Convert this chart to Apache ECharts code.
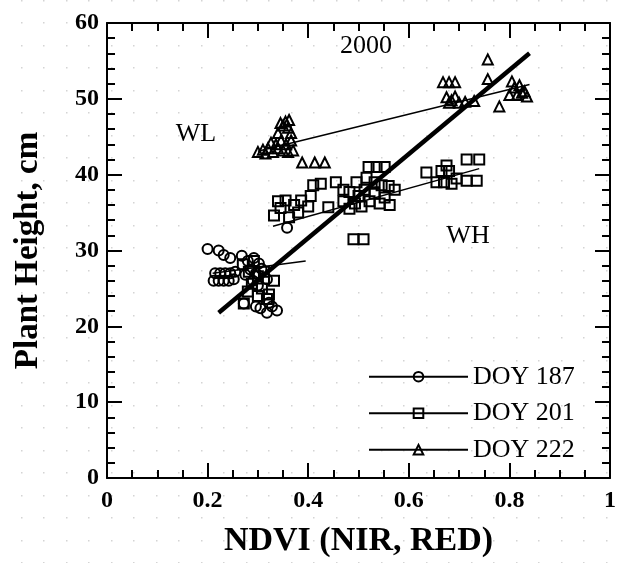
<!DOCTYPE html>
<html>
<head>
<meta charset="utf-8">
<script src="https://cdn.jsdelivr.net/npm/echarts@6/dist/echarts.min.js"></script>
<style>
html, body { margin: 0; padding: 0; background: #fff; }
#height-chart { width: 625px; height: 563px; }
</style>
</head>
<body>
<div id="height-chart"></div>
<script>
// plant height vs NDVI, 2000 season
const xTicks = [0, 0.2, 0.4, 0.6, 0.8, 1];
const yTicks = [0, 10, 20, 30, 40, 50, 60];

// DOY 187 (circles)
const doy187 = [
  [0.200, 30.2], [0.222, 30.0], [0.232, 29.4], [0.245, 29.0],
  [0.215, 27.0], [0.225, 27.0], [0.235, 27.0], [0.245, 27.0], [0.255, 27.2],
  [0.212, 26.0], [0.222, 26.0], [0.232, 26.0], [0.242, 26.0], [0.252, 26.2],
  [0.268, 29.3], [0.280, 28.6], [0.292, 29.0], [0.302, 28.3], [0.285, 27.5],
  [0.296, 27.0], [0.307, 27.6], [0.275, 26.8], [0.290, 26.0], [0.300, 25.4],
  [0.305, 22.4], [0.318, 21.8], [0.328, 22.6], [0.338, 22.1], [0.322, 23.1],
  [0.296, 22.6], [0.272, 23.0], [0.318, 26.2], [0.358, 33.0]
];

// DOY 201 (squares)
const doy201 = [
  [0.270, 28.2], [0.282, 27.2], [0.292, 28.6], [0.300, 26.6], [0.312, 27.2],
  [0.288, 25.6], [0.308, 25.0], [0.322, 24.2], [0.300, 24.0], [0.332, 26.0],
  [0.280, 24.6], [0.272, 23.0], [0.318, 23.6],
  [0.332, 34.6], [0.345, 35.6], [0.362, 34.4], [0.340, 36.5], [0.355, 36.6],
  [0.372, 36.0], [0.386, 36.6], [0.380, 35.0], [0.400, 35.8], [0.410, 38.6],
  [0.425, 38.8], [0.405, 37.2], [0.440, 35.7], [0.455, 39.0], [0.470, 38.0],
  [0.482, 37.7], [0.470, 36.5], [0.482, 35.5], [0.493, 36.2], [0.500, 37.2],
  [0.506, 35.8], [0.512, 38.0], [0.522, 36.5], [0.532, 37.5], [0.542, 36.2],
  [0.552, 37.0], [0.562, 36.0], [0.560, 38.5], [0.572, 38.0], [0.496, 39.0],
  [0.516, 39.6], [0.532, 39.0], [0.546, 38.6], [0.520, 41.0], [0.536, 41.0],
  [0.552, 41.0], [0.490, 31.5], [0.510, 31.5],
  [0.635, 40.3], [0.655, 39.0], [0.665, 40.5], [0.670, 39.0], [0.680, 40.5],
  [0.685, 38.8], [0.695, 39.5], [0.715, 39.2], [0.735, 39.2], [0.715, 42.0],
  [0.740, 42.0], [0.675, 41.2]
];

// DOY 222 (triangles)
const doy222 = [
  [0.300, 43.0], [0.310, 43.3], [0.315, 42.8], [0.320, 43.5], [0.326, 44.2],
  [0.330, 43.0], [0.336, 44.0], [0.340, 43.5], [0.346, 44.5], [0.350, 43.2],
  [0.356, 44.0], [0.360, 43.0], [0.366, 44.5], [0.370, 43.2], [0.340, 45.5],
  [0.350, 46.5], [0.355, 47.0], [0.360, 46.2], [0.366, 45.5], [0.345, 46.8],
  [0.362, 47.2], [0.388, 41.6], [0.413, 41.6], [0.433, 41.6],
  [0.668, 52.2], [0.680, 52.2], [0.692, 52.2], [0.675, 50.2], [0.685, 49.8],
  [0.692, 50.3], [0.680, 49.5], [0.700, 49.5], [0.712, 49.6], [0.730, 49.7],
  [0.757, 55.2], [0.757, 52.6], [0.780, 49.0], [0.805, 52.3], [0.810, 51.5],
  [0.815, 50.5], [0.825, 50.8], [0.835, 50.3], [0.820, 51.8], [0.830, 51.0],
  [0.800, 50.5]
];

// fitted lines (end points)
const fit187 = [[0.21, 27.0], [0.395, 28.6]];
const fit201 = [[0.33, 33.2], [0.74, 40.8]];
const fit222 = [[0.30, 43.1], [0.84, 51.9]];
const fitAll = [[0.222, 21.8], [0.84, 56.0]];

const SERIF = 'Liberation Serif';

// faint dotted paper background
function dotCanvas () {
  let c = document.createElement('canvas');
  c.width = 45;
  c.height = 45;
  let ctx = c.getContext('2d');
  ctx.fillStyle = '#d4d4d4';
  [[21, 0], [43, 0], [21, 22], [43, 22]].forEach(p => ctx.fillRect(p[0], p[1], 1.5, 1.5));
  return c;
}

function valueAxis (pos, min, max, step, minorSplit, labels) {
  let ax = {
    type: 'value',
    position: pos,
    min: min,
    max: max,
    interval: step,
    axisLine: { show: true, onZero: false, lineStyle: { color: '#000', width: 2 } },
    axisTick: { show: true, inside: true, length: 15, lineStyle: { color: '#000', width: 2 } },
    minorTick: { show: true, splitNumber: minorSplit, length: 8, lineStyle: { color: '#000', width: 2 } },
    splitLine: { show: false },
    axisLabel: { show: false }
  };
  if (labels) {
    ax.axisLabel = {
      show: true,
      color: '#000',
      fontFamily: SERIF,
      fontWeight: 'bold',
      fontSize: 24
    };
  }
  return ax;
}

let xBottom = valueAxis('bottom', xTicks[0], xTicks[xTicks.length - 1], 0.2, 4, true);
xBottom.axisLabel.margin = 11;
xBottom.name = 'NDVI (NIR, RED)';
xBottom.nameLocation = 'middle';
xBottom.nameGap = 46;
xBottom.nameTextStyle = { color: '#000', fontFamily: SERIF, fontWeight: 'bold', fontSize: 34 };

let yLeft = valueAxis('left', yTicks[0], yTicks[yTicks.length - 1], 10, 5, true);
yLeft.axisLabel.margin = 8;
yLeft.name = 'Plant Height, cm';
yLeft.nameLocation = 'middle';
yLeft.nameGap = 62;
yLeft.nameTextStyle = { color: '#000', fontFamily: SERIF, fontWeight: 'bold', fontSize: 33 };

let xTop = valueAxis('top', xTicks[0], xTicks[xTicks.length - 1], 0.2, 4, false);
let yRight = valueAxis('right', yTicks[0], yTicks[yTicks.length - 1], 10, 5, false);

function pointSeries (name, shape, data) {
  return {
    name: name,
    type: 'scatter',
    symbol: shape,
    symbolSize: 10,
    data: data,
    itemStyle: { color: 'rgba(0,0,0,0)', borderColor: '#000', borderWidth: 2, opacity: 1 },
    z: 3
  };
}

function fitSeries (name, shape, data, width) {
  return {
    name: name,
    type: 'line',
    symbol: shape,
    showSymbol: false,
    data: data,
    lineStyle: { color: '#000', width: width },
    itemStyle: { color: 'rgba(0,0,0,0)', borderColor: '#000', borderWidth: 1.5 },
    z: 4
  };
}

let chart = echarts.init(document.getElementById('height-chart'));
window.addEventListener('resize', () => { chart.resize(); });

chart.setOption({
  animation: false,
  backgroundColor: '#fff',
  grid: { left: 107, right: 15, top: 23, bottom: 83, containLabel: false },
  xAxis: [xBottom, xTop],
  yAxis: [yLeft, yRight],
  legend: {
    data: ['DOY 187', 'DOY 201', 'DOY 222'],
    orient: 'vertical',
    left: 363,
    top: 358.7,
    itemWidth: 99,
    itemHeight: 12,
    itemGap: 10.5,
    selectedMode: false,
    textStyle: { color: '#000', fontFamily: SERIF, fontSize: 26, lineHeight: 26 }
  },
  graphic: [
    {
      type: 'rect',
      z: -10,
      silent: true,
      shape: { x: 0, y: 0, width: 625, height: 563 },
      style: { fill: { image: dotCanvas(), repeat: 'repeat' } }
    },
    {
      type: 'text', x: 366, y: 46, z: 10,
      style: { text: '2000', fill: '#000', font: '26px "Liberation Serif"', align: 'center', verticalAlign: 'middle' }
    },
    {
      type: 'text', x: 196, y: 134, z: 10,
      style: { text: 'WL', fill: '#000', font: '26px "Liberation Serif"', align: 'center', verticalAlign: 'middle' }
    },
    {
      type: 'text', x: 468, y: 236, z: 10,
      style: { text: 'WH', fill: '#000', font: '26px "Liberation Serif"', align: 'center', verticalAlign: 'middle' }
    }
  ],
  series: [
    pointSeries('DOY 187 pts', 'circle', doy187),
    pointSeries('DOY 201 pts', 'rect', doy201),
    pointSeries('DOY 222 pts', 'triangle', doy222),
    fitSeries('DOY 187', 'circle', fit187, 1.5),
    fitSeries('DOY 201', 'rect', fit201, 1.5),
    fitSeries('DOY 222', 'triangle', fit222, 1.5),
    fitSeries('all', 'none', fitAll, 4.5)
  ]
});
</script>
</body>
</html>
